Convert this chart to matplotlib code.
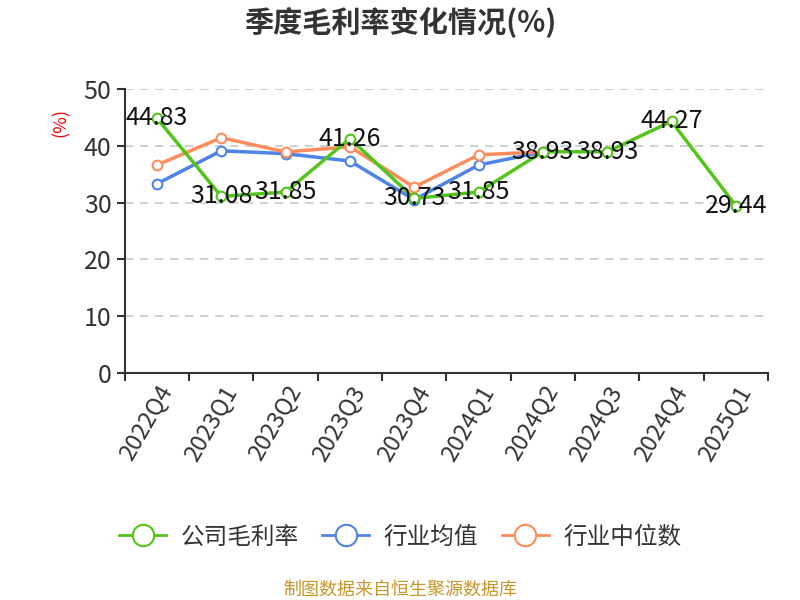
import matplotlib.pyplot as plt
import numpy as np

plt.rcParams['font.family'] = ['Noto Sans CJK SC', 'DejaVu Sans']

quarters = ['2022Q4', '2023Q1', '2023Q2', '2023Q3', '2023Q4',
            '2024Q1', '2024Q2', '2024Q3', '2024Q4', '2025Q1']
company = [44.83, 31.08, 31.85, 41.26, 30.73, 31.85, 38.93, 38.93, 44.27, 29.44]
industry_avg = [33.3, 39.1, 38.6, 37.3, 30.5, 36.6, 38.9]
industry_median = [36.6, 41.4, 38.9, 39.8, 32.7, 38.4, 38.9]

green = '#52c41a'
blue = '#4f83e6'
orange = '#fc8c5c'

fig = plt.figure(figsize=(8, 6), dpi=100)
ax = fig.add_axes([0.156, 0.378, 0.804, 0.474])

x = np.arange(len(quarters))
mk = dict(marker='o', markersize=7, markerfacecolor='white', markeredgewidth=1.5)
ax.plot(x[:len(industry_avg)], industry_avg, color=blue, lw=2.5, label='行业均值',
        markeredgecolor=blue, zorder=3, **mk)
ax.plot(x[:len(industry_median)], industry_median, color=orange, lw=2.5, label='行业中位数',
        markeredgecolor=orange, zorder=3, **mk)
ax.plot(x, company, color=green, lw=2.5, label='公司毛利率',
        markeredgecolor=green, zorder=4, **mk)

for xi, v in zip(x, company):
    ax.text(xi, v, f'{v:.2f}', ha='center', va='center', fontsize=18,
            color='#111111', zorder=5)

ax.set_xlim(-0.5, len(quarters) - 0.5)
ax.set_ylim(0, 50)
ax.set_yticks([0, 10, 20, 30, 40, 50])
ax.tick_params(axis='y', labelsize=18, colors='#333333', length=6, width=1.5)
ax.set_xticks(np.arange(-0.5, len(quarters), 1))
ax.set_xticklabels([])
ax.set_xticks(x, minor=True)
ax.set_xticklabels(quarters, minor=True, rotation=60, ha='right',
                   rotation_mode='anchor', fontsize=17, color='#333333')
ax.tick_params(axis='x', which='major', length=6, width=1.5, color='#333333')
ax.tick_params(axis='x', which='minor', length=0, pad=6)

for side in ['top', 'right']:
    ax.spines[side].set_visible(False)
for side in ['left', 'bottom']:
    ax.spines[side].set_color('#333333')
    ax.spines[side].set_linewidth(1.5)

for yv in [10, 20, 30, 40, 50]:
    ax.axhline(yv, color='#c8c8c8', lw=1.2, ls=(0, (5, 4)), zorder=1)

ax.text(-0.1, 0.88, '(%)', transform=ax.transAxes, rotation=90, color='red',
        fontsize=13, ha='center', va='center')

fig.text(0.5, 0.962, '季度毛利率变化情况(%)', ha='center', va='center',
         fontsize=21, fontweight='bold', color='#333333')

handles, labels = ax.get_legend_handles_labels()
order = [2, 0, 1]
leg = fig.legend([handles[i] for i in order], [labels[i] for i in order],
                 loc='center', bbox_to_anchor=(0.5, 0.105), ncol=3, frameon=False,
                 fontsize=17, handlelength=2.0, columnspacing=1.0, handletextpad=0.6,
                 markerscale=2.2)
for t in leg.get_texts():
    t.set_color('#333333')
for h in leg.legend_handles:
    h.set_linewidth(2)

fig.text(0.5, 0.018, '制图数据来自恒生聚源数据库', ha='center', va='center',
         fontsize=13, color='#c8962a')

fig.savefig('out.png', dpi=100)
